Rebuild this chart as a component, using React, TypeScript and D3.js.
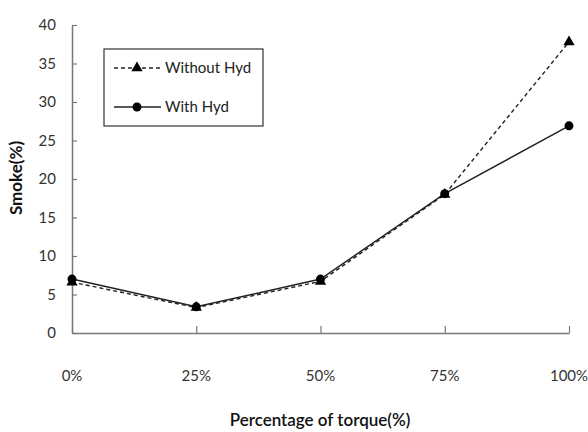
import { useRef, useEffect } from "react";
import * as d3 from "d3";

const categories = ["0%", "25%", "50%", "75%", "100%"];
const withoutHyd = [6.6, 3.3, 6.7, 18, 37.8];
const withHyd = [7.0, 3.4, 7.0, 18.1, 26.9];
const yTicks = [0, 5, 10, 15, 20, 25, 30, 35, 40];

const W = 588;
const H = 432;
const FONT = "Lato, 'Open Sans', sans-serif";

export default function App() {
  const svgRef = useRef<SVGSVGElement>(null);

  useEffect(() => {
    if (!svgRef.current) return;
    const svg = d3.select(svgRef.current);
    svg.selectAll("*").remove();

    const x = d3.scalePoint<string>().domain(categories).range([72, 569]);
    const y = d3.scaleLinear().domain([0, 40]).range([333, 25]);

    const axisColor = "#777";

    // Y axis (ticks point inward)
    const yAx = svg
      .append("g")
      .attr("transform", `translate(${x("0%")},0)`)
      .call(d3.axisRight(y).tickValues(yTicks).tickSize(5).tickSizeOuter(0).tickFormat(() => ""));
    yAx.select(".domain").attr("stroke", axisColor).attr("stroke-width", 1.5);
    yAx.selectAll(".tick line").attr("stroke", axisColor).attr("stroke-width", 1.2);

    svg
      .append("g")
      .selectAll("text")
      .data(yTicks)
      .join("text")
      .attr("x", 56)
      .attr("y", (d) => y(d))
      .attr("dy", "0.35em")
      .attr("text-anchor", "end")
      .style("font-family", FONT)
      .style("font-size", "15px")
      .style("fill", "#333")
      .text((d) => d);

    // X axis (ticks point up)
    const xAx = svg
      .append("g")
      .attr("transform", `translate(0,${y(0)})`)
      .call(d3.axisTop(x).tickSize(7).tickSizeOuter(0).tickFormat(() => ""));
    xAx.select(".domain").attr("stroke", axisColor).attr("stroke-width", 1.5);
    xAx.selectAll(".tick line").attr("stroke", axisColor).attr("stroke-width", 1.2);

    svg
      .append("g")
      .selectAll("text")
      .data(categories)
      .join("text")
      .attr("x", (d) => x(d)!)
      .attr("y", 381)
      .attr("text-anchor", "middle")
      .style("font-family", FONT)
      .style("font-size", "15px")
      .style("fill", "#333")
      .text((d) => d);

    // Axis titles
    svg
      .append("text")
      .attr("transform", `translate(16,178) rotate(-90)`)
      .attr("dy", "0.35em")
      .attr("text-anchor", "middle")
      .style("font-family", FONT)
      .style("font-size", "17px")
      .style("font-weight", "bold")
      .style("fill", "#111")
      .text("Smoke(%)");

    svg
      .append("text")
      .attr("x", 320)
      .attr("y", 426)
      .attr("text-anchor", "middle")
      .style("font-family", FONT)
      .style("font-size", "17px")
      .style("font-weight", "600")
      .style("fill", "#111")
      .text("Percentage of torque(%)");

    const line = d3
      .line<number>()
      .x((_, i) => x(categories[i])!)
      .y((d) => y(d));

    // Without Hyd – dashed with triangles
    svg
      .append("path")
      .datum(withoutHyd)
      .attr("d", line)
      .attr("fill", "none")
      .attr("stroke", "#222")
      .attr("stroke-width", 1.4)
      .attr("stroke-dasharray", "4,3");

    // With Hyd – solid with circles
    svg
      .append("path")
      .datum(withHyd)
      .attr("d", line)
      .attr("fill", "none")
      .attr("stroke", "#222")
      .attr("stroke-width", 1.5);

    const tri = d3.symbol().type(d3.symbolTriangle).size(55);
    svg
      .append("g")
      .selectAll("path")
      .data(withoutHyd)
      .join("path")
      .attr("d", tri)
      .attr("transform", (d, i) => `translate(${x(categories[i])},${y(d)})`)
      .attr("fill", "#000");

    svg
      .append("g")
      .selectAll("circle")
      .data(withHyd)
      .join("circle")
      .attr("cx", (_, i) => x(categories[i])!)
      .attr("cy", (d) => y(d))
      .attr("r", 4.5)
      .attr("fill", "#000");

    // Legend
    const lg = svg.append("g");
    lg.append("rect")
      .attr("x", 104)
      .attr("y", 49)
      .attr("width", 159)
      .attr("height", 77)
      .attr("fill", "#fff")
      .attr("stroke", "#333")
      .attr("stroke-width", 1.2);

    const items = [
      { label: "Without Hyd", dash: "4,3", marker: "tri", yy: 68 },
      { label: "With Hyd", dash: null, marker: "circle", yy: 107 },
    ];
    items.forEach((it) => {
      lg.append("line")
        .attr("x1", 114)
        .attr("x2", 161)
        .attr("y1", it.yy)
        .attr("y2", it.yy)
        .attr("stroke", "#222")
        .attr("stroke-width", 1.4)
        .attr("stroke-dasharray", it.dash);
      if (it.marker === "tri") {
        lg.append("path")
          .attr("d", tri)
          .attr("transform", `translate(137,${it.yy})`)
          .attr("fill", "#000");
      } else {
        lg.append("circle").attr("cx", 137).attr("cy", it.yy).attr("r", 4.5).attr("fill", "#000");
      }
      lg.append("text")
        .attr("x", 165)
        .attr("y", it.yy)
        .attr("dy", "0.35em")
        .style("font-family", FONT)
        .style("font-size", "15px")
        .style("fill", "#222")
        .text(it.label);
    });
  }, []);

  return (
    <div style={{ position: "absolute", left: 0, top: 0, background: "#fff" }}>
      <svg ref={svgRef} width={W} height={H} />
    </div>
  );
}
